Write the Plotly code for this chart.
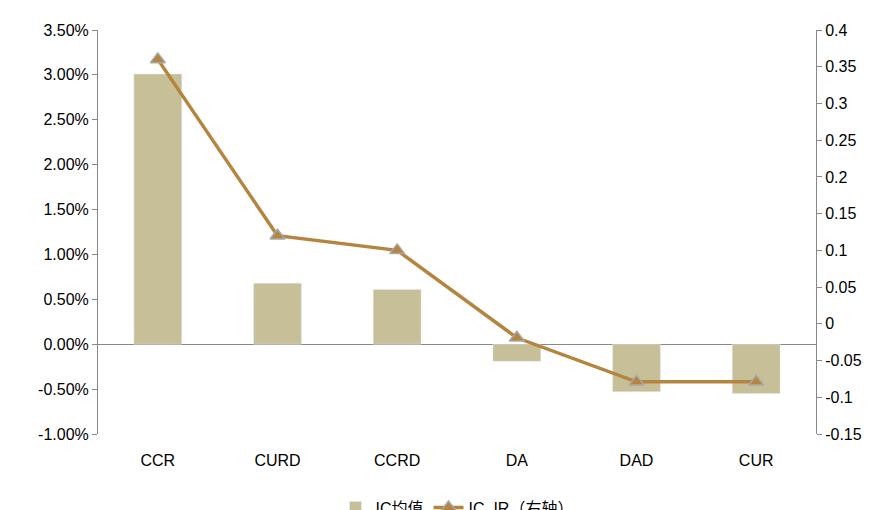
import plotly.graph_objects as go

categories = ["CCR", "CURD", "CCRD", "DA", "DAD", "CUR"]
ic_mean = [0.0301, 0.0068, 0.0061, -0.0019, -0.0053, -0.0055]
ic_ir = [0.36, 0.12, 0.10, -0.019, -0.079, -0.079]

left_ticks = [-0.01 + 0.005 * i for i in range(10)]
right_ticks = [-0.15 + 0.05 * i for i in range(12)]

fig = go.Figure()
fig.add_trace(go.Bar(
    x=categories, y=ic_mean, name="IC均值",
    marker_color="#C7BF98", width=0.4,
))
fig.add_trace(go.Scatter(
    x=categories, y=ic_ir, name="IC_IR（右轴）", yaxis="y2",
    mode="lines+markers",
    line=dict(color="#B5843E", width=3.5),
    marker=dict(symbol="triangle-up", size=13, color="#B5843E",
                line=dict(color="#A8A8A8", width=1.5)),
))

axis_font = dict(family="Liberation Sans, Arial", size=16, color="#000")
fig.update_layout(
    width=892, height=510,
    paper_bgcolor="white", plot_bgcolor="white",
    margin=dict(l=90, r=84, t=22, b=84, autoexpand=False),
    font=dict(family="Liberation Sans, Noto Sans CJK SC", size=16, color="#000"),
    showlegend=True,
    legend=dict(orientation="h", x=0.5, xanchor="center", y=-0.14, yanchor="top",
                font=dict(size=16)),
    xaxis=dict(showline=False, ticks="outside", ticklen=12, tickcolor="white",
               tickfont=axis_font, zeroline=False, automargin=False),
    yaxis=dict(range=[-0.01, 0.035], tickvals=left_ticks,
               ticktext=[f"{v*100:.2f}%" for v in left_ticks],
               tickfont=axis_font, showgrid=False, zeroline=True,
               zerolinecolor="#888", zerolinewidth=1, automargin=False,
               showline=True, linecolor="#888", ticks="outside",
               tickcolor="#888", ticklen=5),
    yaxis2=dict(range=[-0.15, 0.4], tickvals=right_ticks,
                ticktext=[f"{round(v, 2):g}" for v in right_ticks],
                overlaying="y", side="right", tickfont=axis_font,
                showgrid=False, zeroline=False, automargin=False,
                showline=True, linecolor="#888", ticks="outside",
                tickcolor="#888", ticklen=5),
)

fig.write_html("out.html")
